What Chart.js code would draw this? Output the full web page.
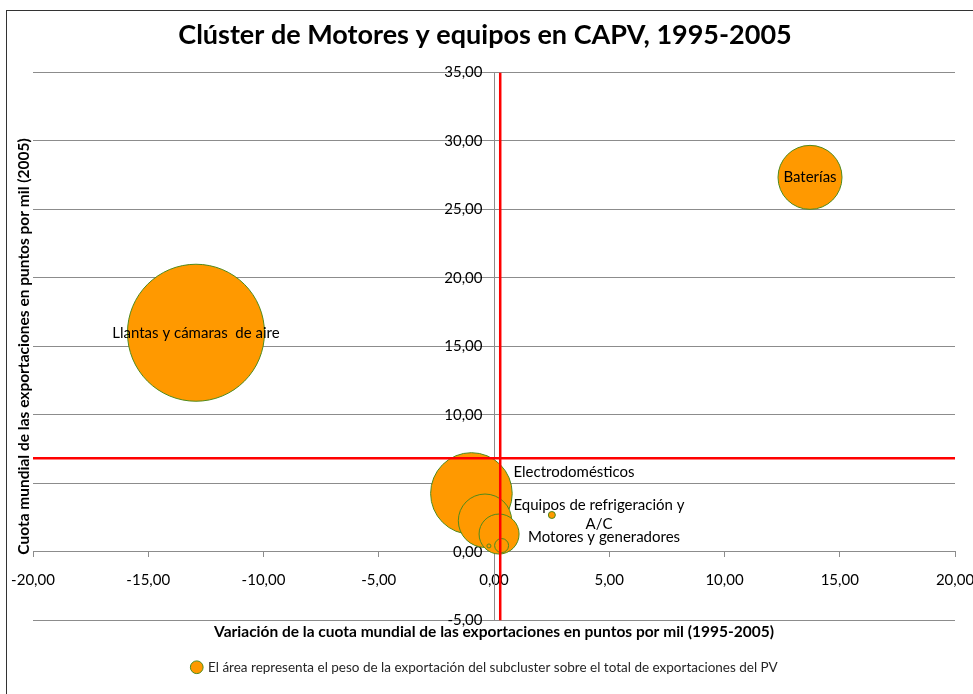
<!DOCTYPE html>
<html>
<head>
<meta charset="utf-8">
<script src="https://cdn.jsdelivr.net/npm/chart.js@4.4.0/dist/chart.umd.min.js"></script>
<style>
  body { margin: 0; background: #fff; }
  #wrap { position: relative; width: 973px; height: 694px; overflow: hidden; }
  #frame { position: absolute; left: 6px; top: 10px; width: 1000px; height: 720px; border: 1.5px solid #333; }
  canvas { position: absolute; left: 0; top: 0; }
</style>
</head>
<body>
<div id="wrap">
  <div id="frame"></div>
  <canvas id="bubbleChart" width="973" height="694"></canvas>
</div>
<script>
// subclusters (unnamed ones have no label in the original)
const names = ['Llantas y cámaras  de aire', 'Electrodomésticos', 'Baterías', 'Equipos de refrigeración y A/C', 'Motores y generadores', '', '', ''];
const cuotaVariacion = [-12.93, -0.98, 13.71, -0.39, 0.22, 0.33, -0.22, 2.51];
const cuota2005 = [16.0, 4.27, 27.34, 2.28, 1.31, 0.47, 0.44, 2.70];
const radios = [68.5, 40.8, 32, 26.7, 20, 7, 2, 3.5];

// reference lines (averages)
const mediaVariacion = 0.27;
const mediaCuota = 6.85;

const xRange = [-20, 20];
const yRange = [-5, 35];

const fmt = v => v.toFixed(2).replace('.', ',');

// where each data label goes, in pixels from its bubble
const labelPos = [
    { dx: 0, dy: 0, align: 'center', lines: ['Llantas y cámaras  de aire'] },
    { dx: 42, dy: -21, align: 'left', lines: ['Electrodomésticos'] },
    { dx: 0, dy: 0, align: 'center', lines: ['Baterías'] },
    { dx: 114, dy: -16, align: 'center', lines: ['Equipos de refrigeración y', 'A/C'] },
    { dx: 105, dy: 3, align: 'center', lines: ['Motores y generadores'] }
];

const bubbles = names.map((n, i) => ({ x: cuotaVariacion[i], y: cuota2005[i], r: radios[i] }));

const dataLabels = {
    id: 'dataLabels',
    afterDatasetsDraw(chart) {
        const meta = chart.getDatasetMeta(2);
        const c = chart.ctx;
        c.save();
        c.font = '15px Lato';
        c.fillStyle = '#000';
        c.textBaseline = 'middle';
        labelPos.forEach((lp, i) => {
            const el = meta.data[i];
            if (!el || !names[i]) return;
            c.textAlign = lp.align;
            lp.lines.forEach((line, k) => {
                c.fillText(line, el.x + lp.dx, el.y + lp.dy + k * 19);
            });
        });
        c.restore();
    }
};

const ctx = document.getElementById('bubbleChart').getContext('2d');
const chart = new Chart(ctx, {
    type: 'bubble',
    data: {
        datasets: [{
            type: 'line',
            label: 'media x',
            data: [{ x: mediaVariacion, y: yRange[0] }, { x: mediaVariacion, y: yRange[1] }],
            borderColor: '#ff0000',
            borderWidth: 2.5,
            pointRadius: 0,
            order: 0
        }, {
            type: 'line',
            label: 'media y',
            data: [{ x: xRange[0], y: mediaCuota }, { x: xRange[1], y: mediaCuota }],
            borderColor: '#ff0000',
            borderWidth: 2.5,
            pointRadius: 0,
            order: 0
        }, {
            label: 'El área representa el peso de la exportación del subcluster sobre el total de exportaciones del PV',
            data: bubbles,
            backgroundColor: '#ff9900',
            borderColor: '#4f8a1c',
            borderWidth: 1,
            hoverRadius: 0,
            order: 1
        }]
    },
    options: {
        responsive: false,
        animation: false,
        layout: { autoPadding: false, padding: { left: 15, right: 18, top: 0, bottom: 10 } },
        plugins: {
            title: {
                display: true,
                text: 'Clúster de Motores y equipos en CAPV, 1995-2005',
                color: '#000',
                font: { family: 'Lato', size: 27, weight: 'bold' },
                padding: { top: 19, bottom: 21 }
            },
            legend: {
                position: 'bottom',
                labels: {
                    filter: item => item.datasetIndex === 2,
                    usePointStyle: true,
                    pointStyle: 'circle',
                    boxWidth: 9,
                    boxHeight: 9,
                    color: '#262626',
                    font: { family: 'Lato', size: 13.5 },
                    padding: 10
                }
            },
            tooltip: { enabled: false }
        },
        scales: {
            x: {
                type: 'linear',
                position: { y: 0 },
                min: xRange[0],
                max: xRange[1],
                afterFit: s => { s.height = 0; s.paddingLeft = 0; s.paddingRight = 0; },
                grid: { display: true, drawOnChartArea: false, drawTicks: true, tickLength: 5, color: '#8c8c8c' },
                border: { color: '#8c8c8c' },
                ticks: { stepSize: 5, padding: 14, color: '#000', font: { family: 'Lato', size: 15 }, callback: fmt, maxRotation: 0 }
            },
            y: {
                type: 'linear',
                position: { x: 0 },
                min: yRange[0],
                max: yRange[1],
                afterFit: s => { s.width = 0; s.paddingTop = 0; s.paddingBottom = 0; },
                grid: { color: '#8c8c8c', drawTicks: false },
                border: { color: '#8c8c8c' },
                // trailing spaces keep the labels clear of the axis line
                ticks: { stepSize: 5, color: '#000', font: { family: 'Lato', size: 15 }, callback: v => fmt(v) + '   ' }
            },
            xTitle: {
                type: 'linear',
                axis: 'x',
                position: 'bottom',
                min: xRange[0],
                max: xRange[1],
                afterFit: s => { s.height = 30; s.paddingLeft = 0; s.paddingRight = 0; },
                grid: { display: false },
                border: { display: false },
                ticks: { display: false },
                title: {
                    display: true,
                    text: 'Variación de la cuota mundial de las exportaciones en puntos por mil (1995-2005)',
                    color: '#000',
                    font: { family: 'Lato', size: 15.5, weight: 'bold' },
                    padding: { top: 0, bottom: 9 }
                }
            },
            yTitle: {
                type: 'linear',
                axis: 'y',
                position: 'left',
                min: yRange[0],
                max: yRange[1],
                afterFit: s => { s.width = 18; s.paddingTop = 0; s.paddingBottom = 0; },
                grid: { display: false },
                border: { display: false },
                ticks: { display: false },
                title: {
                    display: true,
                    text: 'Cuota mundial de las exportaciones en puntos por mil (2005)',
                    color: '#000',
                    font: { family: 'Lato', size: 15.5, weight: 'bold' },
                    padding: { top: 0, bottom: 0 }
                }
            }
        }
    },
    plugins: [dataLabels]
});
</script>
</body>
</html>
